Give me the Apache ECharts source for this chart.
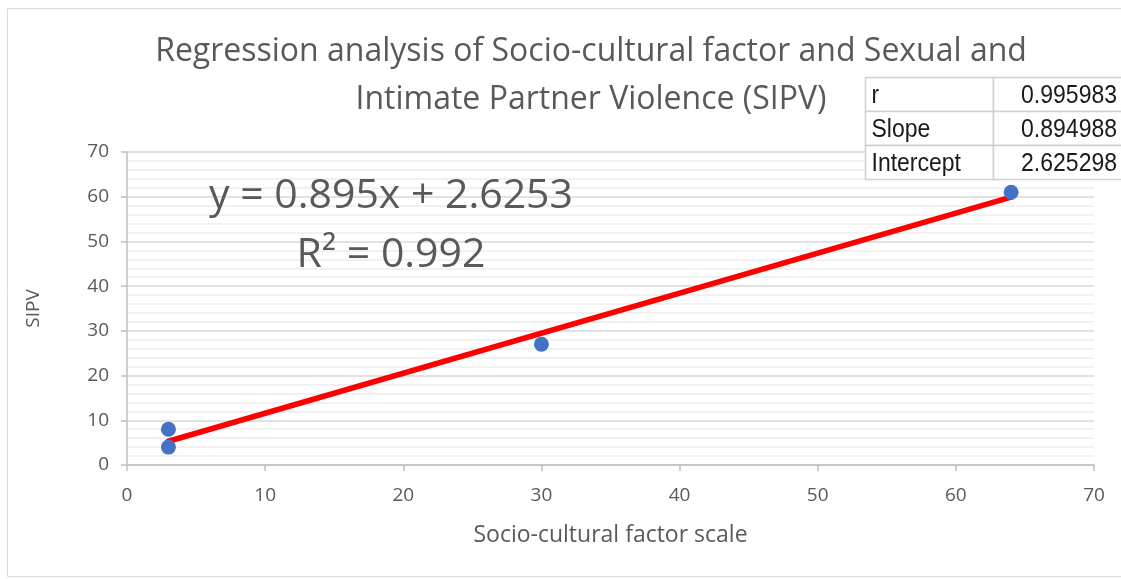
<!DOCTYPE html>
<html><head><meta charset="utf-8">
<script src="https://cdn.jsdelivr.net/npm/echarts@6/dist/echarts.min.js"></script>
<style>html,body{margin:0;padding:0;background:#fff}#c{width:1121px;height:579px}</style>
</head><body><div id="c"></div>
<script>
const xValues = [3, 3, 30, 64];
const yValues = [8, 4, 27, 61];
const trendX = [3, 64];
const trendY = [5.31, 59.9];
const xTicks = [0, 10, 20, 30, 40, 50, 60, 70];
const yTicks = [0, 10, 20, 30, 40, 50, 60, 70];
const statLabels = ['r', 'Slope', 'Intercept'];
const statValues = ['0.995983', '0.894988', '2.625298'];
const titleLines = ['Regression analysis of Socio-cultural factor and Sexual and', 'Intimate Partner Violence (SIPV)'];
const equationText = 'y = 0.895x + 2.6253';
const r2Text = 'R² = 0.992';

const chart = echarts.init(document.getElementById('c'));
const txt = '#595959';
const font = '"Open Sans", "Noto Sans", sans-serif';

const tableGraphics = [];
const tx = 865.5, ty = 77.5, rowH = 34, col1 = 128, col2 = 140;
for (let i = 0; i < 3; i++) {
  tableGraphics.push({type:'rect', shape:{x:tx, y:ty+i*rowH, width:col1, height:rowH}, style:{fill:'#fff', stroke:'#d0d0d0', lineWidth:1.5}, z:100});
  tableGraphics.push({type:'rect', shape:{x:tx+col1, y:ty+i*rowH, width:col2, height:rowH}, style:{fill:'#fff', stroke:'#d0d0d0', lineWidth:1.5}, z:100});
  tableGraphics.push({type:'text', x:tx+6, y:ty+i*rowH+rowH/2+1, scaleY:1.12, style:{text:statLabels[i], fill:'#1a1a1a', font:'23px "Liberation Sans", Arial, sans-serif', textAlign:'left', textVerticalAlign:'middle'}, z:101});
  tableGraphics.push({type:'text', x:1117, y:ty+i*rowH+rowH/2+1, scaleY:1.12, style:{text:statValues[i], fill:'#1a1a1a', font:'23px "Liberation Sans", Arial, sans-serif', textAlign:'right', textVerticalAlign:'middle'}, z:101});
}

chart.setOption({
  animation: false,
  backgroundColor: '#fff',
  grid: {left:127, right:27, top:152, bottom:114},
  xAxis: {
    type:'value', min:0, max:70, interval:10,
    name:'Socio-cultural factor scale', nameLocation:'middle', nameGap:59,
    nameTextStyle:{color:txt, fontSize:23, fontFamily:font},
    axisLine:{show:true, lineStyle:{color:'#bfbfbf', width:1.5}},
    axisTick:{show:true, length:6, lineStyle:{color:'#bfbfbf', width:1.5}},
    axisLabel:{color:txt, fontSize:19, fontFamily:font, margin:21, formatter:v=>xTicks.includes(v)?String(v):''},
    splitLine:{show:false}
  },
  yAxis: {
    type:'value', min:0, max:70, interval:10,
    name:'SIPV', nameLocation:'middle', nameGap:84, nameRotate:90,
    nameTextStyle:{color:txt, fontSize:19, fontFamily:font},
    axisLine:{show:true, lineStyle:{color:'#bfbfbf', width:1.5}},
    axisTick:{show:true, length:6, lineStyle:{color:'#bfbfbf', width:1.5}},
    axisLabel:{color:txt, fontSize:19, fontFamily:font, margin:18, formatter:v=>yTicks.includes(v)?String(v):''},
    splitLine:{show:true, lineStyle:{color:'#d9d9d9', width:1.5}},
    minorTick:{show:false, splitNumber:5},
    minorSplitLine:{show:true, lineStyle:{color:'#ededed', width:1.5}}
  },
  series: [
    {type:'line', data:trendX.map((x,i)=>[x, trendY[i]]), symbol:'none', lineStyle:{color:'#ff0000', width:5.5, cap:'round'}, z:2},
    {type:'scatter', data:xValues.map((x,i)=>[x, yValues[i]]), symbolSize:15, itemStyle:{color:'#4472c4', opacity:1}, z:3}
  ],
  graphic: [
    {type:'rect', shape:{x:7.5, y:8.5, width:1130, height:568}, style:{fill:'none', stroke:'#d9d9d9', lineWidth:1}, z:0, silent:true},
    {type:'text', x:591, y:52, style:{text:titleLines[0], fill:txt, font:'32px '+font, textAlign:'center', textVerticalAlign:'middle'}, z:10},
    {type:'text', x:591, y:100, style:{text:titleLines[1], fill:txt, font:'32px '+font, textAlign:'center', textVerticalAlign:'middle'}, z:10},
    {type:'text', x:391, y:196, style:{text:equationText, fill:txt, font:'41px '+font, textAlign:'center', textVerticalAlign:'middle'}, z:10},
    {type:'text', x:391, y:255, style:{text:r2Text, fill:txt, font:'41px '+font, textAlign:'center', textVerticalAlign:'middle'}, z:10}
  ].concat(tableGraphics)
});
</script></body></html>
